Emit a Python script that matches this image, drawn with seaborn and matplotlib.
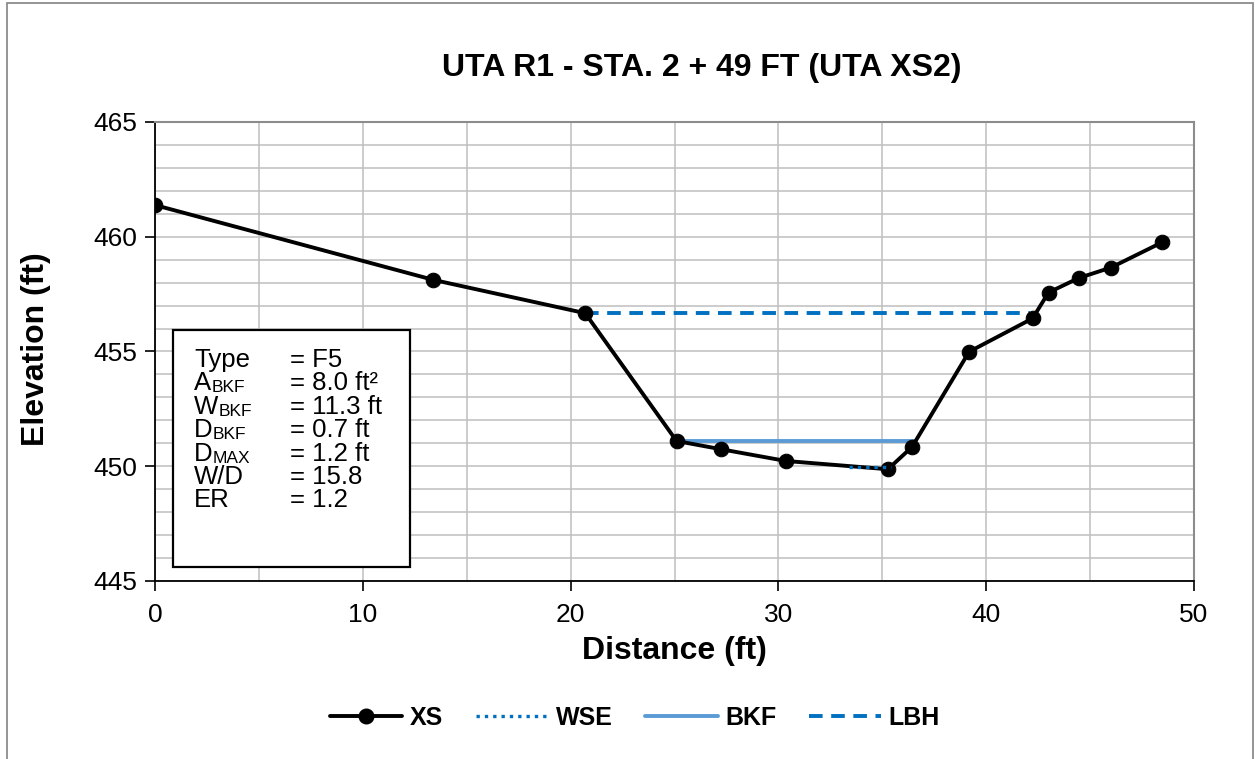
import matplotlib
matplotlib.use("Agg")
import matplotlib.pyplot as plt
import seaborn as sns
from matplotlib.patches import Rectangle
from matplotlib.lines import Line2D

# ---- data ----
xs_dist = [0.0, 13.4, 20.7, 25.1, 27.25, 30.36, 35.27, 36.43, 39.18, 42.23, 43.0, 44.45, 46.01, 48.45]
xs_elev = [461.38, 458.12, 456.67, 451.1, 450.74, 450.23, 449.87, 450.84, 454.99, 456.44, 457.57, 458.2, 458.66, 459.75]
wse_dist = [33.4, 35.4]
wse_elev = [449.97, 449.97]
bkf_dist = [25.1, 36.55]
bkf_elev = [451.1, 451.1]
lbh_dist = [20.7, 42.1]
lbh_elev = [456.66, 456.66]

title = "UTA R1 - STA. 2 + 49 FT (UTA XS2)"
stats_main = ["Type", "A", "W", "D", "D", "W/D", "ER"]
stats_sub = ["", "BKF", "BKF", "BKF", "MAX", "", ""]
stats_values = ["= F5", "= 8.0 ft²", "= 11.3 ft", "= 0.7 ft", "= 1.2 ft", "= 15.8", "= 1.2"]

sns.set_theme(style="white")
plt.rcParams['font.family'] = ['Liberation Sans', 'DejaVu Sans']
plt.rcParams['text.color'] = 'black'
plt.rcParams['axes.labelcolor'] = 'black'

W, H = 1255, 759
fig = plt.figure(figsize=(W/100, H/100), dpi=100)
fig.patches.append(Rectangle((7/W, -0.01), (1253-7)/W, 1-3/H+0.01, transform=fig.transFigure,
                             fill=False, edgecolor="#8c8c8c", linewidth=1.3))
ax = fig.add_axes([155/W, 1-581/H, (1194-155)/W, (581-122)/H])

black = "black"
wse_c = "#0070c0"
bkf_c = "#5b9bd5"
lbh_c = "#0070c0"
xs_lw, ms = 2.8, 10.5
lbh_ls = (0, (3.5, 2.2))
wse_ls = (0, (1, 1.5))

sns.lineplot(x=lbh_dist, y=lbh_elev, ax=ax, color=lbh_c, linewidth=2.8, linestyle=lbh_ls, sort=False, zorder=3)
sns.lineplot(x=xs_dist, y=xs_elev, ax=ax, color=black, linewidth=xs_lw, marker="o", markersize=ms,
             markeredgecolor=black, sort=False, zorder=4)
sns.lineplot(x=bkf_dist, y=bkf_elev, ax=ax, color=bkf_c, linewidth=2.8, sort=False, zorder=3)
sns.lineplot(x=wse_dist, y=wse_elev, ax=ax, color=wse_c, linewidth=2.4, linestyle=wse_ls, sort=False, zorder=5)

ax.set_xlim(0, 50)
ax.set_ylim(445, 465)
ax.set_xticks(range(0, 51, 10))
ax.set_yticks(range(445, 466, 5))
ax.set_xticks(range(0, 51, 5), minor=True)
ax.set_yticks(range(445, 466, 1), minor=True)
ax.grid(which="both", color="#bfbfbf", linewidth=1.1)
ax.set_axisbelow(True)
ax.tick_params(axis="y", which="major", direction="out", length=7, width=1.2, color=black,
               labelsize=19, labelcolor=black, left=True, pad=6)
ax.tick_params(axis="x", which="major", direction="out", length=7, width=1.2, color=black,
               labelsize=19, labelcolor=black, bottom=True, pad=9)
ax.tick_params(axis="both", which="minor", length=0)
for side in ["left", "bottom"]:
    ax.spines[side].set_color(black)
    ax.spines[side].set_linewidth(1.3)
for side in ["top", "right"]:
    ax.spines[side].set_color("#8c8c8c")
    ax.spines[side].set_linewidth(1.5)

ax.set_xlabel("Distance (ft)", fontsize=23, fontweight="bold", labelpad=6)
ax.set_ylabel("Elevation (ft)", fontsize=23, fontweight="bold")
ax.yaxis.set_label_coords(36/W, 1-349/H, transform=fig.transFigure)
ax.yaxis.label.set_va("center")
fig.text(702/W, 1-68/H, title, ha="center", va="center", fontsize=23, fontweight="bold")

# stats box
box_left, box_top, box_right, box_bot = 173, 330, 410, 567
fig.patches.append(Rectangle((box_left/W, 1-box_bot/H), (box_right-box_left)/W, (box_bot-box_top)/H,
                             transform=fig.transFigure, facecolor="white", edgecolor=black, linewidth=1.6, zorder=6))
renderer = fig.canvas.get_renderer()
base0 = 367
for i, (main, sub, val) in enumerate(zip(stats_main, stats_sub, stats_values)):
    yb = 1 - (base0 + i*23.4)/H
    t = fig.text(194/W, yb, main, ha="left", va="baseline", fontsize=18.5, zorder=7)
    if sub:
        bb = t.get_window_extent(renderer)
        fig.text(bb.x1/W + 0.3/W, yb - 2/H, sub, ha="left", va="baseline", fontsize=12.5, zorder=7)
    fig.text(290/W, yb, val, ha="left", va="baseline", fontsize=18.5, zorder=7)

handles = [
    Line2D([], [], color=black, linewidth=xs_lw, marker="o", markersize=ms),
    Line2D([], [], color=wse_c, linewidth=2.4, linestyle=wse_ls),
    Line2D([], [], color=bkf_c, linewidth=2.8),
    Line2D([], [], color=lbh_c, linewidth=2.8, linestyle=lbh_ls),
]
fig.legend(handles, ["XS", "WSE", "BKF", "LBH"], loc="center", bbox_to_anchor=(635/W, 1-718/H),
           ncol=4, frameon=False, prop={"size": 18, "weight": "bold"}, handlelength=2.9,
           columnspacing=1.3, handletextpad=0.3)

fig.savefig("out.png", dpi=100)
